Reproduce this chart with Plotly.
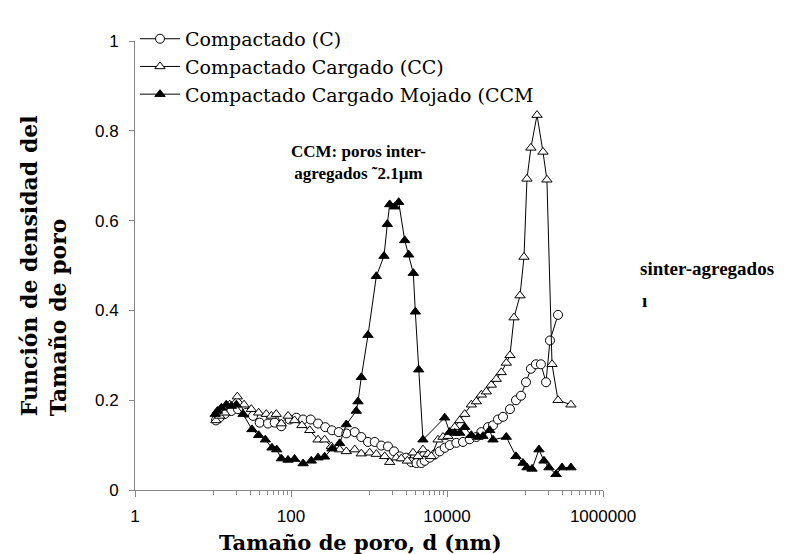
import plotly.graph_objects as go

# ---- data ----
c_d = [10.9, 12.2, 14.1, 17.2, 20.9, 26.7, 32.6, 39.7, 50.7, 61.8,
       75.1, 96.2, 117, 143, 179, 222, 275, 335, 409, 512,
       656, 797, 971, 1183, 1438, 1753, 2093, 2477, 3013, 3493,
       4045, 4688, 5176, 6000, 6955, 8060, 9340, 10830, 13180, 16030,
       19540, 23770, 27540, 33570, 38870, 45070, 52240, 64200, 76700, 88900,
       103000, 119000, 138000, 160000, 186000, 209000, 265000]
c_v = [0.155, 0.162, 0.169, 0.176, 0.180, 0.172, 0.165, 0.150, 0.148, 0.150,
       0.142, 0.157, 0.161, 0.157, 0.157, 0.148, 0.140, 0.133, 0.129, 0.126,
       0.129, 0.118, 0.107, 0.107, 0.099, 0.097, 0.086, 0.075, 0.072, 0.062,
       0.060, 0.060, 0.065, 0.072, 0.079, 0.086, 0.094, 0.100, 0.105, 0.107,
       0.113, 0.118, 0.129, 0.140, 0.144, 0.157, 0.163, 0.180, 0.200, 0.210,
       0.240, 0.270, 0.280, 0.280, 0.240, 0.333, 0.390]

cc_d = [10.9, 12.2, 14.1, 16.4, 20.5, 25.0, 31.0, 38.5, 48.2, 56.0,
        64.8, 75.1, 91.6, 111, 138, 174, 222, 270, 329, 421,
        512, 656, 797, 1020, 1242, 1589, 1842, 2239, 2594, 3097,
        3664, 4249, 4920, 5703, 6295, 7674, 8890, 10300, 12560, 14560,
        16870, 20510, 23770, 27540, 31920, 36990, 42870, 49670, 57580, 64200,
        72300, 86300, 97100, 106000, 119000, 142600, 170000, 191000, 222000, 265000,
        388000]
cc_v = [0.155, 0.165, 0.172, 0.190, 0.208, 0.190, 0.180, 0.172, 0.169, 0.165,
        0.169, 0.148, 0.165, 0.155, 0.144, 0.133, 0.112, 0.112, 0.097, 0.090,
        0.086, 0.090, 0.081, 0.083, 0.080, 0.075, 0.062, 0.072, 0.070, 0.065,
        0.083, 0.075, 0.090, 0.080, 0.075, 0.112, 0.118, 0.120, 0.140, 0.155,
        0.169, 0.190, 0.197, 0.212, 0.219, 0.234, 0.247, 0.262, 0.283, 0.300,
        0.384, 0.433, 0.519, 0.693, 0.762, 0.835, 0.753, 0.691, 0.280, 0.200,
        0.190]

ccm_d = [10.7, 11.4, 12.8, 14.8, 17.2, 19.9, 24.3, 31.6, 38.5, 46.9,
         57, 65.6, 75.1, 91.6, 111, 143, 182, 222, 270, 335,
         421, 512, 687, 723, 797, 971, 1242, 1556, 1718, 1842,
         2135, 2403, 2870, 3229, 3700, 3925, 4340, 4920, 9340, 10830,
         12560, 14560, 16870, 20510, 24950, 28950, 35270, 38870, 57580, 76700,
         94200, 106000, 123000, 151000, 175000, 203000, 250000, 298000, 388000]
ccm_v = [0.169, 0.176, 0.183, 0.190, 0.187, 0.190, 0.169, 0.135, 0.122, 0.112,
         0.094, 0.090, 0.070, 0.067, 0.069, 0.059, 0.065, 0.072, 0.074, 0.092,
         0.104, 0.146, 0.176, 0.197, 0.251, 0.345, 0.476, 0.521, 0.592, 0.636,
         0.631, 0.641, 0.556, 0.524, 0.483, 0.397, 0.268, 0.112, 0.161, 0.129,
         0.127, 0.127, 0.140, 0.122, 0.118, 0.120, 0.133, 0.112, 0.118, 0.075,
         0.060, 0.050, 0.047, 0.090, 0.065, 0.050, 0.035, 0.050, 0.050]

names = ["Compactado (C)", "Compactado Cargado (CC)", "Compactado Cargado Mojado (CCM"]
x_tickvals = [1, 100, 10000, 1000000]
x_ticktext = ["1", "100", "10000", "1000000"]
x_minorvals = [10, 20, 30, 40, 50, 60, 70, 80, 90,
               1000, 2000, 3000, 4000, 5000, 6000, 7000, 8000, 9000,
               100000, 200000, 300000, 400000, 500000, 600000, 700000, 800000, 900000]
y_tickvals = [0, 0.2, 0.4, 0.6, 0.8, 1]
y_ticktext = ["0", "0.2", "0.4", "0.6", "0.8", "1"]

AX = "#868686"
fig = go.Figure()
fig.add_trace(go.Scatter(x=c_d, y=c_v, name=names[0], mode="lines+markers",
                         line=dict(color="black", width=1),
                         marker=dict(symbol="circle", size=9, color="white",
                                     line=dict(color="black", width=1))))
fig.add_trace(go.Scatter(x=cc_d, y=cc_v, name=names[1], mode="lines+markers",
                         line=dict(color="black", width=1),
                         marker=dict(symbol="triangle-up", size=9, color="white",
                                     line=dict(color="black", width=1))))
fig.add_trace(go.Scatter(x=ccm_d, y=ccm_v, name=names[2], mode="lines+markers",
                         line=dict(color="black", width=1),
                         marker=dict(symbol="triangle-up", size=9, color="black",
                                     line=dict(color="black", width=1))))

fig.update_layout(
    width=786, height=554,
    margin=dict(l=127, r=191, t=16, b=72),
    paper_bgcolor="white", plot_bgcolor="white",
    showlegend=True,
    legend=dict(x=0, xanchor="left", y=1.047, yanchor="top",
                bgcolor="rgba(0,0,0,0)", borderwidth=0, itemwidth=40,
                font=dict(family="DejaVu Serif", size=19, color="black"),
                tracegroupgap=0),
    xaxis=dict(type="log", range=[0, 6], showgrid=False, zeroline=False,
               showline=True, linecolor=AX, linewidth=1,
               ticks="outside", ticklen=6, tickcolor=AX,
               tickvals=x_tickvals, ticktext=x_ticktext,
               ticklabelstandoff=5,
               minor=dict(tickvals=x_minorvals, ticks="outside", ticklen=4, tickcolor=AX),
               tickfont=dict(family="Liberation Sans", size=17, color="black")),
    yaxis=dict(range=[0, 1], showgrid=False, zeroline=False,
               showline=True, linecolor=AX, linewidth=1,
               ticks="outside", ticklen=5, tickcolor=AX,
               tickvals=y_tickvals, ticktext=y_ticktext,
               ticklabelstandoff=7,
               tickfont=dict(family="Liberation Sans", size=17, color="black")),
)

fig.add_annotation(text="Tamaño de poro, d (nm)", xref="paper", yref="paper",
                   x=0.481, y=-0.116, xanchor="center", yanchor="middle", showarrow=False,
                   font=dict(family="DejaVu Serif", size=21, color="black", weight="bold"))
fig.add_annotation(text="Función de densidad del<br>Tamaño de poro", xref="paper", yref="paper",
                   x=-0.195, y=0.5, xanchor="center", yanchor="middle", showarrow=False,
                   textangle=-90, align="left",
                   font=dict(family="DejaVu Serif", size=22, color="black", weight="bold"))
fig.add_annotation(text="CCM: poros inter-<br>agregados ˜2.1µm", xref="paper", yref="paper",
                   x=0.4765, y=0.7296, xanchor="center", yanchor="middle", showarrow=False,
                   align="center", bgcolor="white",
                   font=dict(family="Liberation Serif", size=17, color="black", weight="bold"))
fig.add_annotation(text="sinter-agregados", xref="paper", yref="paper",
                   x=1.075, y=0.4936, xanchor="left", yanchor="middle", showarrow=False,
                   font=dict(family="Liberation Serif", size=19, color="black", weight="bold"))
fig.add_annotation(text="ı", xref="paper", yref="paper",
                   x=1.080, y=0.4227, xanchor="left", yanchor="middle", showarrow=False,
                   font=dict(family="Liberation Serif", size=19, color="black", weight="bold"))

fig.write_html("out.html")
